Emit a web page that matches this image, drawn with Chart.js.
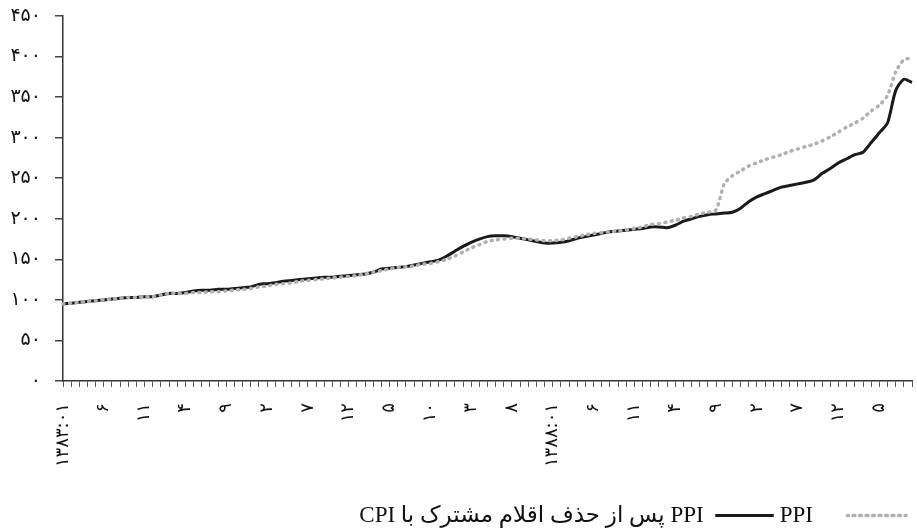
<!DOCTYPE html>
<html>
<head>
<meta charset="utf-8">
<script src="https://cdn.jsdelivr.net/npm/chart.js@4.4.0/dist/chart.umd.min.js"></script>
<style>
  html, body { margin: 0; padding: 0; background: #fff; }
  #wrap { width: 917px; height: 531px; position: relative; }
</style>
</head>
<body>
<div id="wrap"><canvas id="chart"></canvas></div>
<script>
// monthly series, 1383:01 .. 1391:09
const startYear = 1383;
const monthCount = 105;
const labelStep = 5;

const ppi = [
  95, 96, 97, 98, 99, 100, 101, 102, 103, 103, 104, 104,
  106, 108, 108, 108, 109, 109, 110, 110, 111, 112, 113, 114,
  116, 117, 119, 120, 121, 123, 124, 125, 126, 127, 128, 129,
  130, 132, 134, 136, 138, 140, 141, 142, 144, 145, 147, 150,
  154, 159, 164, 168, 172, 174, 175, 176, 176, 175, 174, 173,
  173, 174, 176, 178, 180, 182, 183, 184, 185, 186, 188, 190,
  193, 194, 196, 198, 201, 203, 206, 208, 211, 243, 253, 259,
  265, 269, 273, 276, 279, 283, 286, 289, 292, 296, 301, 307,
  313, 318, 324, 333, 340, 352, 381, 396, 398
];

const ppiExcl = [
  95, 96, 97, 98, 99, 100, 101, 102, 103, 103, 104, 104,
  106, 108, 108, 109, 111, 112, 112, 113, 113, 114, 115, 116,
  119, 120, 121, 123, 124, 125, 126, 127, 128, 128, 129, 130,
  131, 132, 134, 138, 139, 140, 141, 143, 145, 147, 149, 154,
  160, 166, 171, 175, 178, 179, 179, 178, 176, 174, 172, 170,
  170, 171, 173, 176, 178, 180, 182, 184, 185, 186, 187, 188,
  190, 190, 189, 192, 197, 200, 203, 205, 206, 207, 208, 213,
  221, 227, 231, 235, 239, 241, 243, 245, 248, 256, 262, 269,
  274, 279, 282, 294, 306, 318, 358, 372, 368
];

// leading spaces keep the gap between the grey sample and its text
const seriesNames = ['\u00A0\u00A0\u00A0\u00A0PPI', 'PPI پس از حذف اقلام مشترک با CPI'];
const yTicks = [0, 50, 100, 150, 200, 250, 300, 350, 400, 450];

const faDigits = '۰۱۲۳۴۵۶۷۸۹';
function toFa(s) {
  return String(s).replace(/[0-9]/g, d => faDigits[d]);
}

// category labels like 1383:01
const months = [];
for (let i = 0; i < monthCount; i++) {
  const y = startYear + Math.floor(i / 12);
  const m = (i % 12) + 1;
  months.push(y + ':' + String(m).padStart(2, '0'));
}

function tickLabel(i) {
  if (i % labelStep !== 0) return '';
  const parts = months[i].split(':');
  if (parts[1] === '01') return toFa(months[i]);
  return toFa(parseInt(parts[1], 10));
}

const ctx = document.getElementById('chart').getContext('2d');
new Chart(ctx, {
  type: 'line',
  data: {
    labels: months,
    datasets: [{
      label: seriesNames[0],
      data: ppi,
      borderColor: '#b0b0b0',
      backgroundColor: '#b0b0b0',
      borderWidth: 3.5,
      borderDash: [1, 5.5],
      borderCapStyle: 'round',
      pointRadius: 0,
      tension: 0.25,
      fill: false
    }, {
      label: seriesNames[1],
      data: ppiExcl,
      borderColor: '#1a1a1a',
      backgroundColor: '#1a1a1a',
      borderWidth: 3,
      pointRadius: 0,
      tension: 0.25,
      fill: false
    }]
  },
  options: {
    responsive: true,
    maintainAspectRatio: false,
    animation: false,
    layout: { padding: { top: 16, right: 5, left: 0, bottom: -6 } },
    plugins: {
      tooltip: { enabled: false },
      legend: {
        position: 'bottom',
        align: 'start',
        rtl: true,
        textDirection: 'rtl',
        labels: {
          boxWidth: 58.5,
          boxHeight: 0,
          padding: 6,
          color: '#111',
          font: { family: "'Liberation Serif', 'DejaVu Sans', serif", size: 23 }
        }
      }
    },
    scales: {
      x: {
        afterFit: s => {
          s.height = 117;
          s.paddingLeft = 0;
          s.paddingRight = 0;
        },
        grid: {
          display: true,
          drawOnChartArea: false,
          drawTicks: true,
          tickLength: 6,
          color: '#555',
          lineWidth: 1
        },
        border: { display: true, color: '#333', width: 1.5 },
        ticks: {
          autoSkip: false,
          minRotation: 90,
          maxRotation: 90,
          padding: 16,
          color: '#111',
          font: { family: "'DejaVu Sans', sans-serif", size: 18 },
          callback: (val, i) => tickLabel(i)
        }
      },
      y: {
        min: 0,
        max: 450,
        afterFit: s => {
          s.width = 63;
          s.paddingTop = 0;
          s.paddingBottom = 0;
        },
        afterBuildTicks: s => { s.ticks = yTicks.map(v => ({ value: v })); },
        grid: {
          display: true,
          drawOnChartArea: false,
          drawTicks: true,
          tickLength: 8,
          color: '#444',
          lineWidth: 1.5
        },
        border: { display: true, color: '#333', width: 1.5 },
        ticks: {
          padding: 14,
          color: '#111',
          font: { family: "'DejaVu Sans', sans-serif", size: 19 },
          callback: v => toFa(v)
        }
      }
    }
  }
});
</script>
</body>
</html>
